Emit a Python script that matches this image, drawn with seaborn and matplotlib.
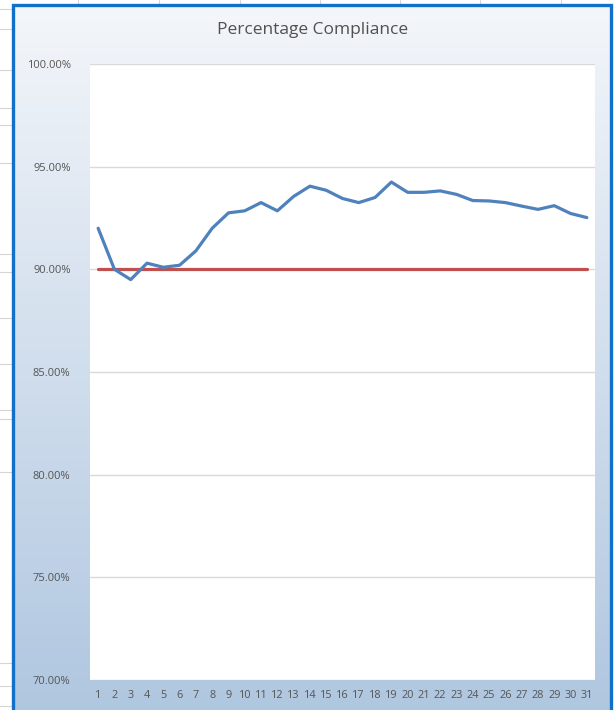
import numpy as np
import pandas as pd
import matplotlib
matplotlib.use("Agg")
import matplotlib.pyplot as plt
from matplotlib.patches import Rectangle
from matplotlib.lines import Line2D
import seaborn as sns

days = list(range(1, 32))
compliance = [92.0, 90.0, 89.5, 90.3, 90.1, 90.2, 90.9, 92.0, 92.75, 92.85,
              93.25, 92.85, 93.55, 94.05, 93.85, 93.45, 93.25, 93.5, 94.25, 93.75,
              93.75, 93.82, 93.65, 93.35, 93.33, 93.25, 93.08, 92.92, 93.1, 92.72, 92.52]
target = [90.0] * 31
ytick_vals = [70, 75, 80, 85, 90, 95, 100]
ytick_labels = ["70.00%", "75.00%", "80.00%", "85.00%", "90.00%", "95.00%", "100.00%"]
title = "Percentage Compliance"

df = pd.DataFrame({"day": days, "compliance": compliance, "target": target})

sns.set_theme(style="white")
plt.rcParams["font.family"] = ["Open Sans", "DejaVu Sans"]

W, H = 614, 710
fig = plt.figure(figsize=(W / 100, H / 100), dpi=100, facecolor="white")

# spreadsheet grid lines behind the chart
for yy in [9, 29, 70, 108, 125, 163, 254, 272, 318, 364, 410, 419, 472, 663, 686, 706]:
    fig.add_artist(Line2D([0, 12 / W], [1 - yy / H, 1 - yy / H], color="#d4d4d4", lw=0.8,
                          transform=fig.transFigure, zorder=0))
for xx in [78, 159, 240, 320, 400, 480, 561]:
    fig.add_artist(Line2D([xx / W, xx / W], [1, 1 - 3 / H], color="#d4d4d4", lw=0.8,
                          transform=fig.transFigure, zorder=0))

# gradient chart background
bg = fig.add_axes([13 / W, 0, (611 - 13) / W, (H - 4) / H], zorder=0)
grad = np.linspace(0, 1, 256).reshape(-1, 1)
top = np.array([0.955, 0.965, 0.98])
bot = np.array([0.69, 0.78, 0.88])
img = top + (bot - top) * grad[..., None]
bg.imshow(img, aspect="auto", extent=[0, 1, 0, 1])
bg.set_axis_off()
# blue border
fig.add_artist(Rectangle((13 / W, -0.05), (611 - 13) / W, 1.05 - 4.5 / H,
                         fill=False, edgecolor="#1170c9", lw=2.4,
                         transform=fig.transFigure, zorder=5))

ax = fig.add_axes([90 / W, 30 / H, (595 - 90) / W, (680 - 64) / H], zorder=2)
ax.set_facecolor("white")

sns.lineplot(data=df, x="day", y="target", ax=ax, color="#c0504d", lw=2.3, zorder=3)
sns.lineplot(data=df, x="day", y="compliance", ax=ax, color="#4f81bd", lw=2.3, zorder=4)

ax.set_xlim(0.5, 31.5)
ax.set_ylim(70, 100)
ax.set_yticks(ytick_vals)
ax.set_yticklabels(ytick_labels)
ax.set_xticks(days)
ax.set_xticklabels([str(d) for d in days])
ax.yaxis.grid(True, color="#d9d9d9", lw=1)
ax.set_axisbelow(True)
for s in ax.spines.values():
    s.set_visible(False)
ax.tick_params(axis="both", length=0, labelcolor="#555555")
ax.tick_params(axis="y", pad=14, labelsize=8)
ax.tick_params(axis="x", pad=7, labelsize=7.8)
ax.set_xlabel("")
ax.set_ylabel("")

fig.text(313 / W, 1 - 30 / H, title, ha="center", va="center", fontsize=12.5, color="#505050")

fig.savefig("out.png", dpi=100, facecolor="white")
